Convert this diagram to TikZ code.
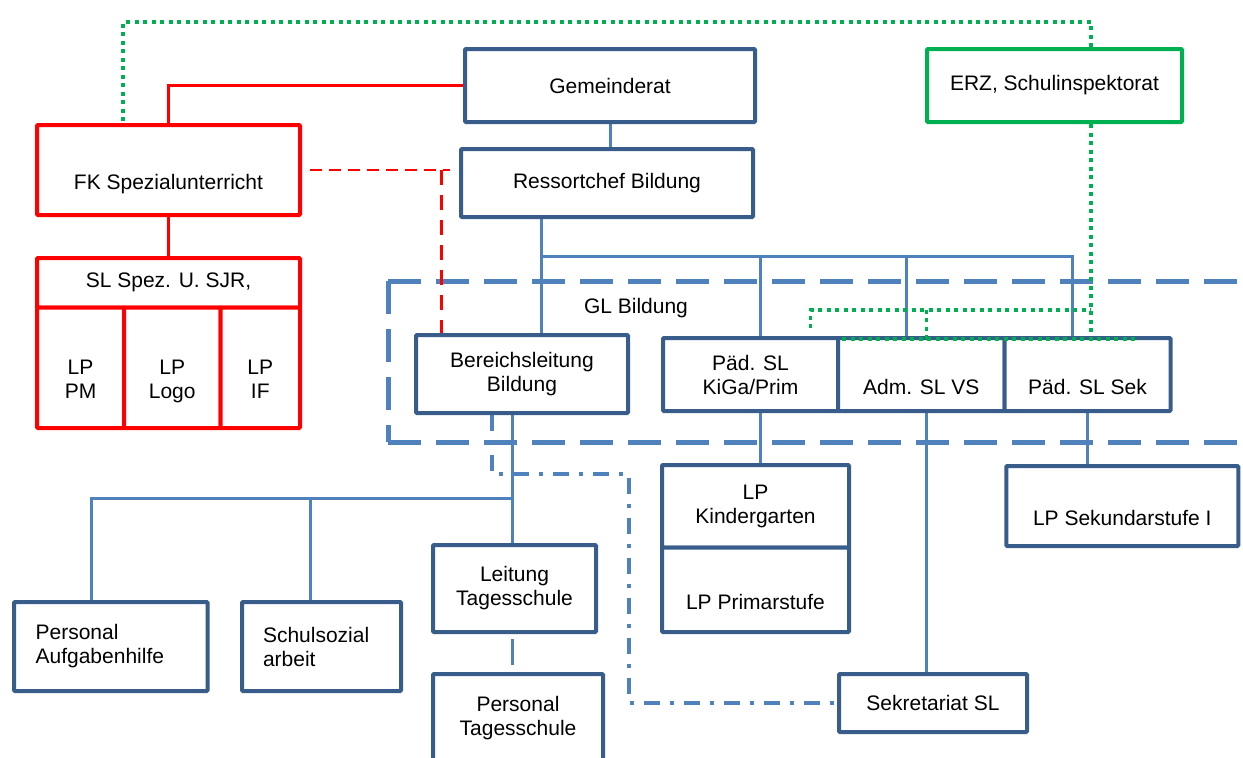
\documentclass[tikz,border=0pt]{standalone}
\usepackage{fontspec}
\setmainfont{Liberation Sans}
\usetikzlibrary{positioning, calc, backgrounds}
\definecolor{BoxBlue}{RGB}{56, 93, 138}
\definecolor{LinkBlue}{RGB}{79, 129, 189}
\definecolor{FKRed}{RGB}{255, 0, 0}
\definecolor{ERZGreen}{RGB}{0, 176, 80}

\begin{document}
\begin{tikzpicture}[
    x=1pt, y=-1pt,
    font=\fontsize{21}{24}\selectfont,
    boxstyle/.style={rectangle, draw=BoxBlue, fill=white, line width=4pt, rounded corners=1pt, align=center, inner sep=2pt},
    redbox/.style={boxstyle, draw=FKRed},
    greenbox/.style={boxstyle, draw=ERZGreen},
    leftbox/.style={boxstyle, align=left},
    lowtext/.style={text height=44pt, text depth=5pt},
    lowpair/.style={text height=66pt, text depth=4pt},
    linkstyle/.style={draw=LinkBlue, line width=3pt},
    redlink/.style={draw=FKRed, line width=3pt},
    reddash/.style={draw=FKRed, line width=2pt, dash pattern=on 12pt off 7pt},
    reddashthick/.style={draw=FKRed, line width=3pt, dash pattern=on 15pt off 10pt},
    greenlink/.style={draw=ERZGreen, line width=3.5pt, dash pattern=on 4pt off 4.5pt},
    dashdotlink/.style={draw=LinkBlue, line width=3.5pt, dash pattern=on 16pt off 10pt on 4pt off 10pt},
    glframe/.style={draw=LinkBlue, line width=5pt, dash pattern=on 33pt off 15pt}
]
    \useasboundingbox (0,0) rectangle (1243,758);

    % Top level
    \node (gemeinderat) [boxstyle, minimum width=290pt, minimum height=73pt] at (610,85.5) {Gemeinderat};
    \node (ressortchef) [boxstyle, minimum width=292pt, minimum height=68pt] at (607,183) {Ressortchef Bildung};
    \node (erz) [greenbox, minimum width=255pt, minimum height=73pt] at (1054.5,85.5) {ERZ, Schulinspektorat};

    % Special lessons (red)
    \node (fk) [redbox, lowtext, minimum width=263pt, minimum height=90pt] at (168.5,170) {FK Spezialunterricht};
    \node (sl_spez) [redbox, minimum width=263pt, minimum height=49.5pt] at (168.5,282.75) {SL Spez. U. SJR,};
    \node (lp_pm) [redbox, lowpair, minimum width=87pt, minimum height=120.5pt] at (80.5,367.75) {LP\\PM};
    \node (lp_logo) [redbox, lowpair, minimum width=96.5pt, minimum height=120.5pt] at (172.25,367.75) {LP\\Logo};
    \node (lp_if) [redbox, lowpair, minimum width=79.5pt, minimum height=120.5pt] at (260.25,367.75) {LP\\IF};

    % GL Bildung
    \node (gl_label) at (636,308) {GL Bildung};
    \node (bereich) [boxstyle, minimum width=212pt, minimum height=78pt] at (522,374) {Bereichsleitung\\Bildung};
    \node (paed_kiga) [boxstyle, minimum width=175pt, minimum height=73pt] at (750.5,374.5) {Päd. SL\\KiGa/Prim};
    \node (adm) [boxstyle, lowtext, minimum width=166.5pt, minimum height=73pt] at (921.25,374.5) {Adm. SL VS};
    \node (paed_sek) [boxstyle, lowtext, minimum width=166pt, minimum height=73pt] at (1087.5,374.5) {Päd. SL Sek};

    % Teachers and staff
    \node (lp_kiga) [boxstyle, minimum width=187pt, minimum height=82.5pt] at (755.5,506.25) {LP\\Kindergarten};
    \node (lp_prim) [boxstyle, lowtext, minimum width=187pt, minimum height=84.5pt] at (755.5,589.75) {LP Primarstufe};
    \node (lp_sek) [boxstyle, lowtext, minimum width=232pt, minimum height=80pt] at (1122.3,506) {LP Sekundarstufe I};
    \node (sekretariat) [boxstyle, minimum width=188pt, minimum height=58pt] at (933,703) {Sekretariat SL};
    \node (pers_aufg) [leftbox, inner xsep=21.6pt, text width=150.3pt, minimum height=89pt] at (110.75,646.5) {Personal\\Aufgabenhilfe};
    \node (schulsozial) [leftbox, inner xsep=21pt, text width=117pt, minimum height=89pt] at (321.5,646.5) {Schulsozial\\arbeit};
    \node (leitung_ts) [boxstyle, minimum width=163pt, minimum height=87pt] at (514.5,588.5) {Leitung\\Tagesschule};
    \node (personal_ts) [boxstyle, minimum width=170pt, minimum height=88pt] at (518,718) {Personal\\Tagesschule};

    % Helper coordinates
    \coordinate (gl_nw) at (388,281);
    \coordinate (gl_ne) at (1243,281);
    \coordinate (gl_sw) at (388,442);
    \coordinate (gl_se) at (1243,442);
    \coordinate (bus) at (0,256);
    \coordinate (bus2) at (0,498);
    \coordinate (tree_top) at ($(ressortchef.south)+(-66,0)$);
    \coordinate (kiga_drop) at ($(paed_kiga.north)+(10,0)$);
    \coordinate (adm_drop) at ($(adm.north)+(-15,0)$);
    \coordinate (kiga_link) at ($(paed_kiga.south)+(10,0)$);
    \coordinate (sek_link) at ($(adm.south)+(5,0)$);
    \coordinate (ts_link) at ($(bereich.south)+(-10,0)$);
    \coordinate (sozial_drop) at ($(schulsozial.north)+(-11.5,0)$);
    \coordinate (pts_link) at ($(leitung_ts.south)+(-2,0)$);
    \coordinate (dd_start) at ($(bereich.south)+(-30,0)$);
    \coordinate (dd_knee) at (629,474);
    \coordinate (red_knee) at ($(bereich.north west)+(27,0)$);
    \coordinate (red_top) at (red_knee |- fk.east);
    \coordinate (green_x) at ($(erz.south)+(36.5,0)$);
    \coordinate (green_top) at (0,22);
    \coordinate (green_mid) at (0,310);
    \coordinate (adm_top) at ($(adm.north)+(5,3)$);

    \begin{scope}[on background layer]
        % GL Bildung frame
        \draw [glframe] (gl_nw) -- (gl_ne);
        \draw [glframe] (gl_nw) -- (gl_sw);
        \draw [glframe] (gl_sw) -- (gl_se);

        % Connections
        \draw [linkstyle] (gemeinderat.south) -- (gemeinderat.south |- ressortchef.north);
        \draw [linkstyle] (tree_top) -- ($(bereich.north)+(19,0)$);
        \draw [linkstyle] (tree_top |- bus) -| ($(paed_sek.north)+(-15,0)$);
        \draw [linkstyle] (kiga_drop |- bus) -- (kiga_drop);
        \draw [linkstyle] (adm_drop |- bus) -- (adm_drop);
        \draw [linkstyle] (kiga_link) -- (kiga_link |- lp_kiga.north);
        \draw [linkstyle] (sek_link) -- (sek_link |- sekretariat.north);
        \draw [linkstyle] (paed_sek.south) -- (paed_sek.south |- lp_sek.north);
        \draw [linkstyle] (ts_link) -- (ts_link |- leitung_ts.north);
        \draw [linkstyle] (ts_link |- bus2) -| ($(pers_aufg.north)+(-19,0)$);
        \draw [linkstyle] (sozial_drop |- bus2) -- (sozial_drop);
        \draw [linkstyle, shorten <=5pt, shorten >=7pt] (pts_link) -- (pts_link |- personal_ts.north);
        \draw [dashdotlink] (dd_start) |- (dd_knee) |- (sekretariat.west);

        \draw [redlink] (gemeinderat.west) -| (fk.north);
        \draw [redlink] (fk.south) -- (sl_spez.north);
        \draw [reddash] ($(fk.east)+(8,0)$) -- ($(red_top)+(9,0)$);
        \draw [reddashthick] (red_top) -- (red_knee);
    \end{scope}

    % ERZ links
    \draw [greenlink] (green_x |- erz.north) -- (green_x |- green_top) -| ($(fk.north)+(-45.5,0)$);
    \draw [greenlink] (green_x) -- (green_x |- paed_sek.north);
    \draw [greenlink] ($(paed_kiga.north)+(60,-8)$) |- (green_x |- green_mid);
    \draw [greenlink] (adm_top) -- (adm_top |- green_mid);
    \draw [greenlink] ($(adm.north)+(-79,3)$) -- ($(paed_sek.north)+(51,3)$);

\end{tikzpicture}
\end{document}
